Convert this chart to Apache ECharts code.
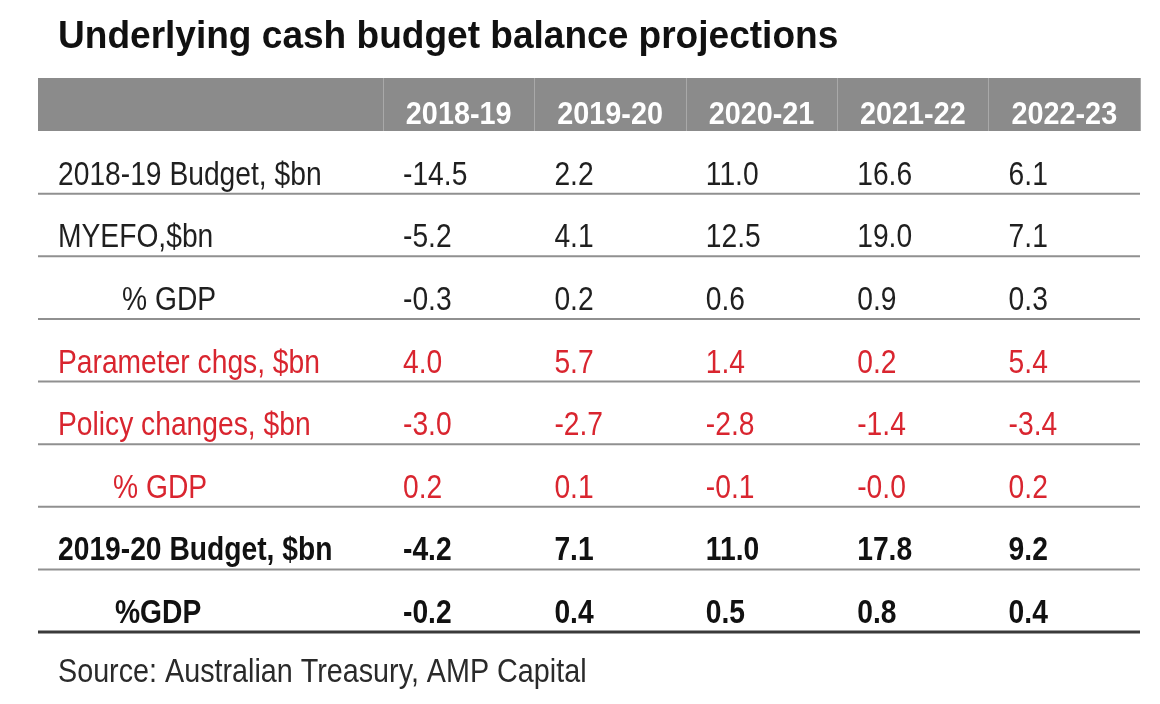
<!DOCTYPE html>
<html>
<head>
<meta charset="utf-8">
<script src="https://cdn.jsdelivr.net/npm/echarts@6/dist/echarts.min.js"></script>
<style>
  html, body { margin: 0; padding: 0; background: #ffffff; }
  #chart { width: 1160px; height: 704px; }
</style>
</head>
<body>
<div id="chart"></div>
<script>
// ---- data ----
const chartTitle = 'Underlying cash budget balance projections';
const sourceNote = 'Source: Australian Treasury, AMP Capital';
const years = ['2018-19', '2019-20', '2020-21', '2021-22', '2022-23'];
const rowLabels = [
  '2018-19 Budget, $bn',
  'MYEFO,$bn',
  '% GDP',
  'Parameter chgs, $bn',
  'Policy changes, $bn',
  '% GDP',
  '2019-20 Budget, $bn',
  '%GDP'
];
const budget1819 = [-14.5, 2.2, 11.0, 16.6, 6.1];
const myefo = [-5.2, 4.1, 12.5, 19.0, 7.1];
const myefoGdp = [-0.3, 0.2, 0.6, 0.9, 0.3];
const parameterChgs = [4.0, 5.7, 1.4, 0.2, 5.4];
const policyChgs = [-3.0, -2.7, -2.8, -1.4, -3.4];
const changesGdp = [0.2, 0.1, -0.1, -0.0, 0.2];
const budget1920 = [-4.2, 7.1, 11.0, 17.8, 9.2];
const budget1920Gdp = [-0.2, 0.4, 0.5, 0.8, 0.4];

const rowValues = [budget1819, myefo, myefoGdp, parameterChgs, policyChgs, changesGdp, budget1920, budget1920Gdp];

// ---- styles ----
const FONT = '"Liberation Sans", Arial, Helvetica, sans-serif';
const NARROW = 0.83;       // horizontal squeeze to mimic a condensed face
const RED = '#d9252f';
const BLACK = '#1f1f1f';
const rowKinds = ['plain', 'plain', 'plainIndent', 'red', 'red', 'redIndent', 'bold', 'boldIndent'];
const kindStyle = {
  plain:       { color: BLACK, fontWeight: 'normal', indent: 0 },
  plainIndent: { color: BLACK, fontWeight: 'normal', indent: 64 },
  red:         { color: RED,   fontWeight: 'normal', indent: 0 },
  redIndent:   { color: RED,   fontWeight: 'normal', indent: 55 },
  bold:        { color: '#111111', fontWeight: 'bold', indent: 0 },
  boldIndent:  { color: '#111111', fontWeight: 'bold', indent: 57 }
};
const FS = 34;
const TEXT_SHIFT = 13;
const LABEL_COL = 325;   // distance from the first value column to the row-label start
const RULE_EXT = 345;    // how far rules extend left of the value columns

function fmt(v) {
  const neg = v < 0 || Object.is(v, -0);
  return (neg ? '-' : '') + Math.abs(v).toFixed(1);
}

const cellData = [];
rowValues.forEach((vals, r) => vals.forEach((v, c) => cellData.push([c, r, v])));
const rowData = rowLabels.map((_, r) => [0, r]);
const headData = years.map((_, c) => [c, 0]);

function narrowText(x, y, text, style, scaleX) {
  return {
    type: 'text', x: x, y: y, scaleX: scaleX, scaleY: 1,
    style: Object.assign({ x: 0, y: 0, text: text, fontFamily: FONT }, style)
  };
}

const chart = echarts.init(document.getElementById('chart'), null, { renderer: 'canvas' });

const option = {
  backgroundColor: '#ffffff',
  animation: false,
  graphic: [
    { type: 'rect', z: 0, shape: { x: 38, y: 78, width: 1102, height: 53 }, style: { fill: '#8b8b8b' } },
    narrowText(58, 37, chartTitle,
      { fill: '#111111', fontSize: 39, fontWeight: 'bold', align: 'left', verticalAlign: 'middle' }, 0.95),
    narrowText(58, 673, sourceNote,
      { fill: '#2a2a2a', fontSize: 34, fontWeight: 'normal', align: 'left', verticalAlign: 'middle' }, 0.845)
  ],
  grid: { left: 383, right: 20, top: 131, bottom: 72, containLabel: false },
  xAxis: {
    type: 'category', position: 'top', data: years, boundaryGap: true,
    axisLine: { show: false },
    axisTick: { show: true, inside: false, length: 53, alignWithLabel: false, lineStyle: { color: '#a9a9a9', width: 1 } },
    axisLabel: { show: false },
    splitLine: { show: false },
    z: 5
  },
  yAxis: {
    type: 'category', inverse: true, data: rowLabels,
    axisLine: { show: false }, axisTick: { show: false }, splitLine: { show: false },
    axisLabel: { show: false }
  },
  series: [
    {
      type: 'custom', name: 'rules', data: rowData, clip: false, silent: true, z: 2,
      renderItem: function (params, api) {
        const r = api.value(1);
        const cs = params.coordSys;
        const c = api.coord([0, r]);
        const h = api.size([0, 1])[1];
        const y = c[1] + h / 2;
        const last = r === rowLabels.length - 1;
        return {
          type: 'line',
          shape: { x1: cs.x - RULE_EXT, y1: y, x2: cs.x + cs.width, y2: y },
          style: { stroke: last ? '#3a3a3a' : '#909090', lineWidth: last ? 3 : 2 }
        };
      }
    },
    {
      type: 'custom', name: 'header', data: headData, clip: false, silent: true, z: 6,
      renderItem: function (params, api) {
        const c = api.value(0);
        const cs = params.coordSys;
        const p = api.coord([c, 0]);
        return narrowText(p[0], cs.y - 16, years[c],
          { fill: '#ffffff', fontSize: 32, fontWeight: 'bold', align: 'center', verticalAlign: 'middle' }, 0.9);
      }
    },
    {
      type: 'custom', name: 'rowLabels', data: rowData, clip: false, silent: true, z: 3,
      renderItem: function (params, api) {
        const r = api.value(1);
        const cs = params.coordSys;
        const p = api.coord([0, r]);
        const s = kindStyle[rowKinds[r]];
        return narrowText(cs.x - LABEL_COL + s.indent, p[1] + TEXT_SHIFT, rowLabels[r],
          { fill: s.color, fontSize: FS, fontWeight: s.fontWeight, align: 'left', verticalAlign: 'middle' }, NARROW);
      }
    },
    {
      type: 'custom', name: 'cells', data: cellData, clip: false, silent: true, z: 3,
      renderItem: function (params, api) {
        const col = api.value(0), r = api.value(1), v = api.value(2);
        const p = api.coord([col, r]);
        const w = api.size([1, 0])[0];
        const s = kindStyle[rowKinds[r]];
        return narrowText(p[0] - w / 2 + 20, p[1] + TEXT_SHIFT, fmt(v),
          { fill: s.color, fontSize: FS, fontWeight: s.fontWeight, align: 'left', verticalAlign: 'middle' }, NARROW);
      }
    }
  ]
};
chart.setOption(option);
</script>
</body>
</html>
